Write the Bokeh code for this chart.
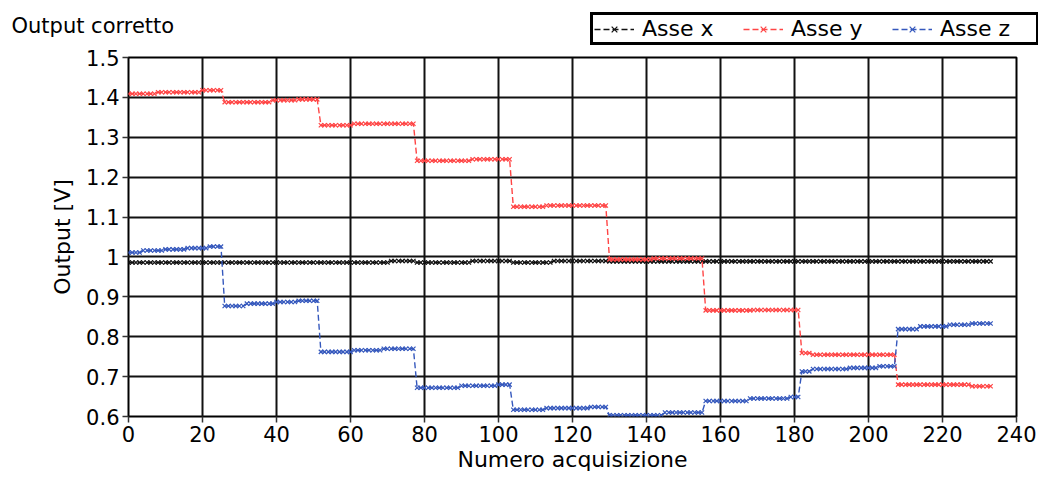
import numpy as np
from bokeh.plotting import figure
from bokeh.layouts import column
from bokeh.models import Legend, LegendItem, Label, FixedTicker, CustomJSTickFormatter, Range1d
from bokeh.embed import file_html
from bokeh.resources import INLINE

# ---- data (run-length encoded levels) ----
n_samples = 234
black_levels = [0.986, 0.990, 0.986, 0.990, 0.986, 0.990, 0.989]
black_counts = [71, 7, 15, 11, 11, 15, 104]

red_levels = [1.409, 1.413, 1.418, 1.388, 1.393, 1.395, 1.330, 1.334,
              1.241, 1.245, 1.126, 1.129, 0.994, 0.996, 0.866, 0.867,
              0.759, 0.755, 0.680, 0.676]
red_counts = [8, 12, 6, 13, 7, 6, 9, 17, 15, 11, 9, 17, 12, 14, 13, 13, 3, 23, 20, 6]

blue_levels = [1.011, 1.016, 1.019, 1.022, 1.026,
               0.877, 0.883, 0.887, 0.890,
               0.762, 0.766, 0.770,
               0.672, 0.677, 0.680,
               0.617, 0.621, 0.624,
               0.603, 0.610,
               0.639, 0.645, 0.649,
               0.713, 0.719, 0.722, 0.726,
               0.819, 0.826, 0.830, 0.833]
blue_counts = [4, 6, 6, 6, 4, 6, 8, 6, 6, 9, 8, 9, 12, 10, 4, 9, 12, 5,
               15, 11, 12, 11, 3, 3, 10, 8, 5, 6, 8, 6, 6]

series_names = ["Asse x", "Asse y", "Asse z"]
series_colors = ["#111111", "#ff4545", "#3558bd"]
x_ticks = [0, 20, 40, 60, 80, 100, 120, 140, 160, 180, 200, 220, 240]
y_ticks = [0.6, 0.7, 0.8, 0.9, 1.0, 1.1, 1.2, 1.3, 1.4, 1.5]
title_text = "Output corretto"

x = np.arange(n_samples)
series = [np.repeat(black_levels, black_counts),
          np.repeat(red_levels, red_counts),
          np.repeat(blue_levels, blue_counts)]

FONT = "DejaVu Sans"
W = 1038
HEADER_H = 46

# ---------------- main chart ----------------
p = figure(width=W, height=474 - HEADER_H, output_backend="svg", toolbar_location=None,
           x_range=Range1d(0, 240), y_range=Range1d(0.6, 1.5),
           min_border_left=128, min_border_right=22, min_border_top=11, min_border_bottom=54,
           background_fill_color="white", border_fill_color="white")
p.frame_align = False

p.outline_line_color = "black"
p.outline_line_width = 2
p.outline_line_alpha = 1

p.xaxis.ticker = FixedTicker(ticks=x_ticks)
p.yaxis.ticker = FixedTicker(ticks=y_ticks)
p.yaxis.formatter = CustomJSTickFormatter(code="return (Math.round(tick*10)/10).toString();")
for ax in (p.xaxis, p.yaxis):
    ax.axis_line_color = None
    ax.major_tick_out = 6
    ax.major_tick_in = 0
    ax.minor_tick_line_color = None
    ax.major_tick_line_color = "#333333"
    ax.major_tick_line_width = 1.5
    ax.major_label_text_font = FONT
    ax.major_label_text_color = "black"
    ax.axis_label_text_font = FONT
    ax.axis_label_text_font_style = "normal"
    ax.axis_label_text_font_size = "22px"
    ax.axis_label_text_color = "black"
    ax.major_label_standoff = 3
    ax.axis_label_standoff = 2
p.xaxis.major_label_text_font_size = "21px"
p.yaxis.major_label_text_font_size = "21px"
p.yaxis.axis_label_standoff = 8
p.xaxis.axis_label = "Numero acquisizione"
p.yaxis.axis_label = "Output [V]"

p.grid.grid_line_color = "#111111"
p.grid.grid_line_width = 2
p.grid.grid_line_alpha = 1

for col, y in zip(series_colors, series):
    p.line(x, y, line_color=col, line_width=1.4, line_dash="6 3")
    p.scatter(x, y, marker="x", size=6, line_color=col, line_width=1.2)

# ---------------- header: title + legend ----------------
h = figure(width=W, height=HEADER_H, output_backend="svg", toolbar_location=None,
           x_range=Range1d(1000, 2000), y_range=Range1d(0, 1),
           x_axis_type=None, y_axis_type=None,
           min_border_left=0, min_border_right=0, min_border_top=0, min_border_bottom=0,
           background_fill_color="white", border_fill_color="white")
h.frame_align = False
h.outline_line_color = None
h.grid.visible = False

items = []
for name, col, y in zip(series_names, series_colors, series):
    # same series, drawn out of this strip's range: only their legend glyphs show
    ln = h.line(x, y, line_color=col, line_width=1.4, line_dash="6 3")
    sc = h.scatter(x, y, marker="x", size=6, line_color=col, line_width=1.2)
    items.append(LegendItem(label=name, renderers=[ln, sc]))

legend = Legend(items=items, orientation="horizontal", location=(590, 1),
                border_line_color="black", border_line_width=3, border_line_alpha=1,
                label_text_font=FONT, label_text_font_size="22px", label_text_color="black",
                glyph_width=40, glyph_height=20, label_width=95,
                label_standoff=8, spacing=6, padding=1, margin=0,
                background_fill_color="white", background_fill_alpha=1)
h.add_layout(legend)

title = Label(x=11, y=HEADER_H - 25, x_units="screen", y_units="screen",
              text=title_text, text_font=FONT, text_font_size="21px",
              text_baseline="middle", text_color="black")
h.add_layout(title)

layout = column(h, p, spacing=0)
open("out.html", "w").write(file_html(layout, INLINE))
